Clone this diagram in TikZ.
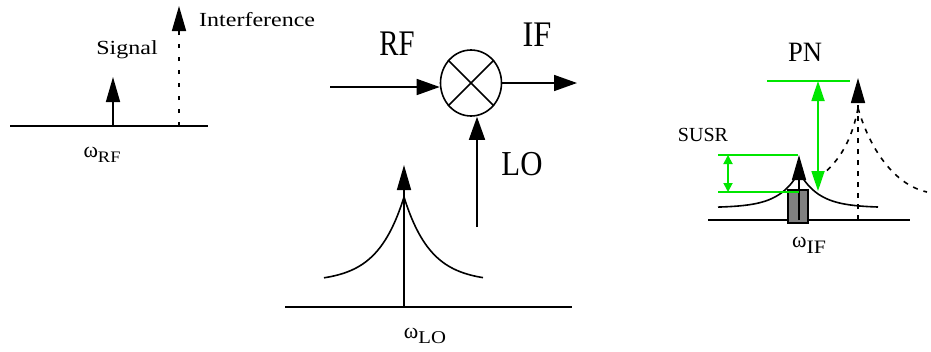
\documentclass[tikz,border=0pt]{standalone}
\usepackage{fontspec}
\usepackage{graphicx}
\setmainfont{Liberation Serif}
\usetikzlibrary{arrows.meta,shapes.geometric}
\definecolor{grn}{RGB}{0,230,0}
\definecolor{rectgray}{RGB}{128,128,128}
\newcommand{\fs}[1]{\fontsize{#1}{#1}\selectfont}
\newcommand{\wsub}[4]{{\fs{#1}ω}{\fs{#2}\raisebox{-0.3em}{\scalebox{#3}[1]{#4}}}}
\begin{document}
\begin{tikzpicture}[x=1pt,y=-1pt,
  lbl/.style={inner sep=0pt},
  axis/.style={line width=1.6pt},
  sigarrow/.style={line width=1.6pt,-{Triangle[length=25pt,width=14pt]}},
  mixarrow/.style={line width=1.6pt,-{Triangle[length=23pt,width=16pt]}},
  skirt/.style={line width=1.6pt},
  dskirt/.style={line width=1.6pt,dash pattern=on 5pt off 6pt},
  grnline/.style={draw=grn,line width=1.8pt},
  grnarrow/.style={draw=grn,line width=1.8pt,{Triangle[length=20pt,width=13pt,fill=grn]}-{Triangle[length=20pt,width=13pt,fill=grn]}},
  grnsmall/.style={draw=grn,line width=1.8pt,{Triangle[length=9pt,width=9pt,fill=grn]}-{Triangle[length=9pt,width=9pt,fill=grn]}}
]
\useasboundingbox (0,0) rectangle (931,351);

% ---------- left spectrum ----------
\coordinate (la) at (10,126);
\coordinate (lb) at (208,126);
\draw[axis] (la) -- (lb);
\coordinate (sigb) at (113,126);
\coordinate (sigt) at (113,77);
\draw[sigarrow] (sigb) -- (sigt);
\coordinate (intb) at (179,126);
\coordinate (intt) at (179,6);
\draw[sigarrow,dash pattern=on 4pt off 9pt] (intb) -- (intt);
\node[lbl] (signal) at (127,50) {\fs{20}\scalebox{1.2}[1]{Signal}};
\node[lbl,anchor=west] (interf) at (199,20) {\fs{20}\scalebox{1.2}[1]{Interference}};
\node[lbl] (wrf) at (102,155) {\wsub{22}{16}{1.15}{RF}};

% ---------- mixer ----------
\node[draw,ellipse,line width=1.6pt,minimum width=61pt,minimum height=66pt,inner sep=0pt] (mix) at (471,83) {};
\draw[line width=1.6pt] (mix.135) -- (mix.-45);
\draw[line width=1.6pt] (mix.45) -- (mix.-135);
\coordinate (rfin) at (330,87);
\draw[mixarrow] (rfin) -- (rfin -| mix.west);
\coordinate (ifout) at (577,83);
\draw[mixarrow] (mix.east) -- (ifout);
\coordinate (loin) at (477,227);
\draw[mixarrow] (loin) -- (loin |- mix.south);
\node[lbl] (rf) at (397,44) {\fs{36}\scalebox{0.8}[1]{RF}};
\node[lbl] (if) at (537,35) {\fs{36}\scalebox{0.9}[1]{IF}};
\node[lbl] (lo) at (522,164) {\fs{35}\scalebox{0.88}[1]{LO}};

% ---------- LO spectrum ----------
\coordinate (ma) at (285,307);
\coordinate (mb) at (572,307);
\draw[axis] (ma) -- (mb);
\coordinate (lob) at (404,307);
\coordinate (lot) at (404,165);
\draw[skirt] plot[domain=-80:0,samples=50] ({404+\x},{278-85*exp(\x/26.6)+4});
\draw[skirt] plot[domain=0:79,samples=50] ({404+\x},{278-85*exp(-\x/26.6)+4});
\draw[sigarrow] (lob) -- (lot);
\node[lbl] (wlo) at (425,336) {\wsub{22}{18}{1.15}{LO}};

% ---------- IF spectrum ----------
\coordinate (ra) at (708,220);
\coordinate (rb) at (910,220);
\draw[axis] (ra) -- (rb);
\draw[skirt] plot[domain=-81:0,samples=50] ({799+\x},{207-35.7*exp(\x/20)+0.7});
\draw[skirt] plot[domain=0:79,samples=50] ({799+\x},{207-35.7*exp(-\x/20)+0.7});
\draw[dskirt] (858,108) .. controls (870,150) and (895,185) .. (927,192);
\draw[dskirt] (858,108) .. controls (852,140) and (840,160) .. (821,176);
\coordinate (pnb) at (858,220);
\coordinate (pnt) at (858,78);
\draw[sigarrow,dash pattern=on 5pt off 6pt] (pnb) -- (pnt);
\draw[line width=1.3pt,fill=rectgray] (788,190) rectangle (808,223);
\coordinate (ifb) at (799,220);
\coordinate (ift) at (799,155);
\draw[sigarrow] (ifb) -- (ift);
% green measures
\coordinate (g1a) at (767,81);
\coordinate (g1b) at (850,81);
\draw[grnline] (g1a) -- (g1b);
\coordinate (pnta) at (818,81);
\coordinate (pntb) at (818,191);
\draw[grnarrow] (pnta) -- (pntb);
\coordinate (s1a) at (718,155);
\coordinate (s1b) at (798,155);
\coordinate (s2a) at (718,192);
\coordinate (s2b) at (799,192);
\draw[grnline] (s1a) -- (s1b);
\draw[grnline] (s2a) -- (s2b);
\coordinate (sa) at (728,155);
\coordinate (sb) at (728,192);
\draw[grnsmall] (sa) -- (sb);
\node[lbl] (pn) at (805,52) {\fs{28}\scalebox{0.95}[1]{PN}};
\node[lbl] (susr) at (703,135) {\fs{20}SUSR};
\node[lbl] (wif) at (809,245) {\wsub{22}{19}{1.15}{IF}};
\end{tikzpicture}
\end{document}
